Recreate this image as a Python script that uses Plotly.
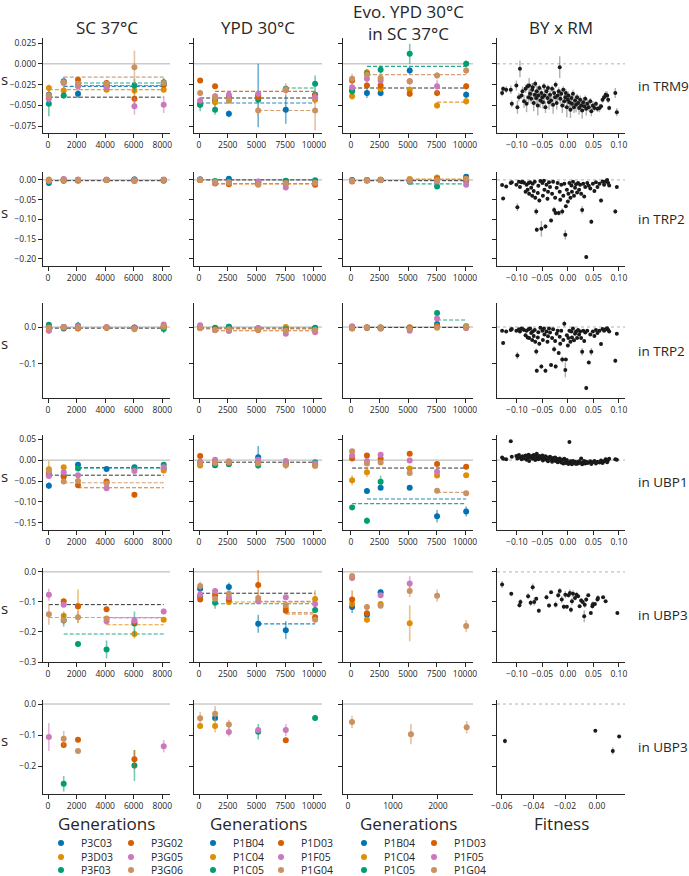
import plotly.graph_objects as go

# ---------------- data ----------------
GEN_SC = [60, 1100, 2100, 4100, 6050, 8100]
GEN_YPD = [100, 1400, 2600, 5150, 7550, 10100]
GEN_EVO = [100, 1400, 2600, 5150, 7550, 10100]
GEN_EVO_UBP3B = [90, 1400, 2640]

STRAINS_SC = ["P3C03", "P3D03", "P3F03", "P3G02", "P3G05", "P3G06"]
STRAINS_P1 = ["P1B04", "P1C04", "P1C05", "P1D03", "P1F05", "P1G04"]
COLORS = ["#0173b2", "#de8f05", "#029e73", "#d55e00", "#cc78bc", "#ca9161"]

N = None

# ---- TRM9 ----
trm9_sc_s = [
    [-0.037, -0.021, -0.036, -0.027, N, -0.025],
    [-0.029, -0.032, -0.026, -0.031, -0.032, -0.031],
    [-0.048, -0.038, -0.025, -0.024, -0.026, -0.022],
    [-0.040, -0.022, -0.019, -0.023, -0.042, -0.025],
    [-0.042, -0.023, -0.027, -0.028, -0.051, -0.049],
    [-0.038, -0.022, -0.024, -0.024, -0.004, -0.023],
]
trm9_sc_e = [
    [0.004, 0.004, 0.005, 0.003, 0, 0.004],
    [0.004, 0.004, 0.003, 0.003, 0.004, 0.003],
    [0.015, 0.004, 0.004, 0.003, 0.008, 0.005],
    [0.004, 0.004, 0.003, 0.003, 0.007, 0.004],
    [0.005, 0.008, 0.004, 0.004, 0.010, 0.010],
    [0.005, 0.004, 0.003, 0.003, 0.020, 0.003],
]
trm9_sc_mean = -0.040
trm9_sc_fix = [(5, 1, -0.016), (2, 2, -0.023), (0, 1, -0.027), (3, 2, -0.026), (1, 0, -0.031)]

trm9_ypd_s = [
    [-0.048, -0.044, -0.060, -0.038, -0.055, -0.037],
    [-0.049, -0.046, -0.044, -0.041, -0.031, -0.043],
    [-0.049, -0.055, -0.040, -0.043, -0.030, -0.024],
    [-0.020, -0.027, -0.041, -0.040, -0.031, -0.038],
    [-0.044, -0.039, -0.037, -0.036, -0.031, -0.040],
    [-0.035, -0.040, -0.043, -0.056, -0.031, -0.056],
]
trm9_ypd_e = [
    [0.004, 0.004, 0.004, 0.038, 0.017, 0.004],
    [0.004, 0.004, 0.004, 0.004, 0.004, 0.004],
    [0.008, 0.006, 0.004, 0.004, 0.004, 0.010],
    [0.003, 0.003, 0.004, 0.003, 0.004, 0.004],
    [0.004, 0.004, 0.004, 0.004, 0.004, 0.004],
    [0.004, 0.004, 0.004, 0.006, 0.008, 0.024],
]
trm9_ypd_mean = -0.041
trm9_ypd_fix = [(3, 1, -0.033), (2, 4, -0.029), (0, 0, -0.047), (5, 3, -0.056)]

trm9_evo_s = [
    [-0.032, -0.035, -0.035, -0.008, N, -0.037],
    [-0.039, -0.010, -0.030, -0.031, -0.050, -0.045],
    [-0.033, -0.012, -0.007, 0.012, N, 0.000],
    [-0.020, -0.026, -0.026, -0.036, -0.035, -0.027],
    [-0.028, -0.018, -0.020, -0.021, -0.027, N],
    [-0.018, -0.013, -0.017, -0.021, -0.014, -0.008],
]
trm9_evo_e = [
    [0.004, 0.006, 0.004, 0.004, 0, 0.004],
    [0.004, 0.004, 0.004, 0.004, 0.004, 0.004],
    [0.004, 0.004, 0.005, 0.012, 0, 0.004],
    [0.004, 0.004, 0.004, 0.004, 0.004, 0.004],
    [0.004, 0.004, 0.004, 0.004, 0.008, 0],
    [0.006, 0.004, 0.004, 0.004, 0.004, 0.004],
]
trm9_evo_mean = -0.029
trm9_evo_fix = [(2, 1, -0.003), (5, 1, -0.013), (1, 4, -0.046)]

# ---- TRP2 (first) ----
trp2a_sc_s = [
    [-0.008, -0.002, 0.000, 0.000, 0.001, 0.000],
    [0.001, 0.000, -0.001, 0.000, -0.002, 0.000],
    [-0.005, 0.001, 0.000, 0.000, 0.001, -0.002],
    [-0.003, -0.001, -0.002, 0.000, -0.002, 0.000],
    [-0.002, 0.002, 0.001, 0.001, 0.000, 0.001],
    [-0.002, -0.001, 0.000, -0.001, -0.003, 0.000],
]
trp2a_sc_e = [[0.003] * 6 for _ in range(6)]
trp2a_sc_mean = -0.002
trp2a_sc_fix = []

trp2a_ypd_s = [
    [0.001, -0.004, 0.003, -0.005, -0.003, -0.006],
    [0.000, -0.006, -0.008, -0.010, -0.004, -0.009],
    [0.001, -0.003, -0.004, -0.006, -0.002, -0.001],
    [0.000, -0.009, -0.011, -0.011, -0.010, -0.012],
    [0.001, -0.008, -0.006, -0.004, -0.019, -0.007],
    [0.000, -0.005, -0.007, -0.012, -0.008, -0.008],
]
trp2a_ypd_e = [[0.003] * 6 for _ in range(6)]
trp2a_ypd_mean = 0.0
trp2a_ypd_fix = [(3, 1, -0.010), (4, 1, -0.009)]

trp2a_evo_s = [
    [-0.002, -0.001, 0.000, 0.000, 0.004, 0.008],
    [-0.001, 0.000, 0.001, 0.002, 0.006, 0.003],
    [0.000, -0.001, 0.000, -0.005, -0.017, -0.003],
    [-0.004, -0.001, 0.000, -0.001, 0.002, 0.000],
    [-0.002, -0.002, -0.001, -0.003, -0.004, -0.012],
    [-0.003, -0.001, 0.000, 0.000, 0.000, 0.002],
]
trp2a_evo_e = [[0.003] * 6 for _ in range(6)]
trp2a_evo_mean = -0.002
trp2a_evo_fix = [(2, 3, -0.010), (1, 3, 0.002), (5, 3, 0.001)]

# ---- TRP2 (second) ----
trp2b_sc_s = [
    [0.002, -0.004, -0.001, -0.001, -0.002, 0.001],
    [-0.010, 0.000, -0.003, -0.001, -0.002, 0.003],
    [0.006, 0.000, 0.004, -0.001, -0.001, -0.005],
    [-0.001, -0.001, -0.004, -0.002, -0.002, 0.000],
    [-0.009, 0.000, 0.002, 0.000, -0.003, 0.007],
    [-0.002, -0.001, -0.002, -0.002, -0.006, 0.001],
]
trp2b_sc_e = [
    [0.003, 0.003, 0.003, 0.003, 0.003, 0.003],
    [0.009, 0.003, 0.003, 0.003, 0.003, 0.003],
    [0.003, 0.003, 0.010, 0.003, 0.003, 0.012],
    [0.003, 0.003, 0.003, 0.003, 0.003, 0.003],
    [0.004, 0.003, 0.003, 0.003, 0.003, 0.005],
    [0.003, 0.003, 0.003, 0.003, 0.003, 0.003],
]
trp2b_sc_mean = -0.003
trp2b_sc_fix = []

trp2b_ypd_s = [
    [-0.002, -0.003, 0.001, -0.005, -0.002, -0.003],
    [-0.001, -0.005, -0.006, -0.004, 0.000, -0.006],
    [0.000, -0.002, 0.001, -0.003, -0.006, -0.002],
    [-0.002, -0.006, -0.010, -0.008, -0.008, -0.009],
    [0.005, -0.009, -0.010, -0.003, -0.018, -0.014],
    [-0.003, -0.008, -0.006, -0.007, -0.010, -0.008],
]
trp2b_ypd_e = [[0.003] * 6 for _ in range(6)]
trp2b_ypd_mean = -0.003
trp2b_ypd_fix = [(3, 1, -0.010), (5, 0, -0.005)]

trp2b_evo_s = [
    [-0.003, -0.002, -0.004, -0.002, 0.008, -0.001],
    [-0.004, -0.002, -0.001, -0.001, 0.002, 0.003],
    [0.000, -0.001, -0.001, -0.003, 0.038, 0.000],
    [-0.002, -0.001, -0.002, -0.001, 0.000, -0.002],
    [0.002, -0.001, -0.002, -0.010, 0.023, -0.002],
    [-0.003, -0.001, -0.003, -0.004, -0.002, 0.001],
]
trp2b_evo_e = [
    [0.003, 0.003, 0.003, 0.003, 0.004, 0.003],
    [0.003, 0.003, 0.003, 0.003, 0.003, 0.003],
    [0.003, 0.003, 0.003, 0.003, 0.008, 0.003],
    [0.003, 0.003, 0.003, 0.003, 0.003, 0.003],
    [0.003, 0.003, 0.003, 0.004, 0.004, 0.003],
    [0.003, 0.003, 0.003, 0.003, 0.003, 0.003],
]
trp2b_evo_mean = -0.001
trp2b_evo_fix = [(2, 4, 0.019)]

# ---- UBP1 ----
ubp1_sc_s = [
    [-0.061, N, -0.011, -0.021, -0.017, -0.020],
    [-0.022, -0.017, N, N, N, -0.025],
    [-0.036, -0.037, -0.020, N, -0.020, -0.011],
    [-0.032, -0.040, -0.060, -0.051, -0.083, N],
    [-0.038, -0.029, -0.036, -0.067, -0.026, -0.017],
    [-0.026, -0.051, -0.050, -0.056, N, N],
]
ubp1_sc_e = [
    [0.008, 0, 0.004, 0.003, 0.003, 0.003],
    [0.020, 0.003, 0, 0, 0, 0.003],
    [0.004, 0.004, 0.003, 0, 0.004, 0.003],
    [0.004, 0.005, 0.004, 0.004, 0.006, 0],
    [0.004, 0.003, 0.003, 0.007, 0.004, 0.003],
    [0.004, 0.003, 0.003, 0.003, 0, 0],
]
ubp1_sc_mean = -0.036
ubp1_sc_fix = [(2, 2, -0.019), (0, 2, -0.018), (5, 1, -0.054), (3, 2, -0.066)]

ubp1_ypd_s = [
    [N, -0.012, N, 0.007, N, N],
    [-0.013, -0.009, -0.006, -0.006, -0.010, -0.012],
    [-0.006, -0.010, -0.010, -0.013, -0.006, -0.005],
    [0.010, -0.005, -0.006, -0.004, -0.009, -0.010],
    [-0.004, 0.001, -0.003, 0.001, -0.002, -0.008],
    [-0.008, -0.007, -0.005, -0.008, -0.012, -0.014],
]
ubp1_ypd_e = [
    [0, 0.004, 0, 0.027, 0, 0],
    [0.004, 0.004, 0.003, 0.003, 0.004, 0.004],
    [0.003, 0.003, 0.004, 0.004, 0.003, 0.003],
    [0.003, 0.003, 0.003, 0.003, 0.004, 0.003],
    [0.003, 0.003, 0.003, 0.003, 0.003, 0.003],
    [0.004, 0.003, 0.003, 0.004, 0.010, 0.004],
]
ubp1_ypd_mean = -0.005
ubp1_ypd_fix = []

ubp1_evo_s = [
    [N, -0.074, -0.066, -0.066, -0.134, -0.123],
    [-0.048, -0.029, N, -0.020, -0.037, -0.036],
    [-0.113, -0.145, -0.052, N, N, N],
    [0.004, 0.011, 0.003, 0.015, -0.009, -0.016],
    [0.011, -0.002, 0.013, -0.001, -0.028, N],
    [0.021, -0.008, -0.006, -0.031, -0.073, -0.079],
]
ubp1_evo_e = [
    [0, 0.006, 0.006, 0.006, 0.015, 0.012],
    [0.012, 0.012, 0, 0.004, 0.004, 0.004],
    [0.006, 0.008, 0.015, 0, 0, 0],
    [0.004, 0.004, 0.004, 0.004, 0.004, 0.006],
    [0.004, 0.004, 0.004, 0.004, 0.004, 0],
    [0.004, 0.004, 0.004, 0.004, 0.004, 0.004],
]
ubp1_evo_mean = -0.019
ubp1_evo_fix = [(5, 4, -0.077), (0, 1, -0.093), (2, 0, -0.104)]

# ---- UBP3 (first) ----
ubp3a_sc_s = [
    [N, N, N, N, N, N],
    [N, -0.146, -0.114, N, -0.207, -0.159],
    [N, -0.162, -0.240, -0.258, -0.172, N],
    [N, -0.098, -0.114, -0.124, -0.167, N],
    [-0.076, -0.109, N, -0.164, -0.162, -0.132],
    [-0.141, -0.160, -0.151, -0.155, N, N],
]
ubp3a_sc_e = [
    [0, 0, 0, 0, 0, 0],
    [0, 0.015, 0.055, 0, 0.015, 0.008],
    [0, 0.020, 0.010, 0.030, 0.040, 0],
    [0, 0.006, 0.006, 0.005, 0.008, 0],
    [0.020, 0.008, 0, 0.012, 0.010, 0.010],
    [0.035, 0.008, 0.020, 0.008, 0, 0],
]
ubp3a_sc_mean = -0.109
ubp3a_sc_fix = [(5, 0, -0.152), (4, 3, -0.153), (1, 3, -0.176), (2, 1, -0.207)]

ubp3a_ypd_s = [
    [-0.056, N, -0.050, -0.173, -0.194, N],
    [N, N, -0.100, N, -0.120, -0.090],
    [-0.081, -0.103, N, N, N, -0.127],
    [-0.092, -0.078, -0.092, -0.044, -0.129, -0.151],
    [-0.075, -0.064, -0.084, -0.098, -0.084, -0.107],
    [-0.047, -0.089, -0.073, -0.087, -0.110, -0.159],
]
ubp3a_ypd_e = [
    [0.008, 0, 0.015, 0.030, 0.030, 0],
    [0, 0, 0.010, 0, 0.010, 0.030],
    [0.008, 0.020, 0, 0, 0, 0.010],
    [0.008, 0.008, 0.008, 0.050, 0.010, 0.010],
    [0.008, 0.010, 0.008, 0.008, 0.008, 0.008],
    [0.015, 0.008, 0.008, 0.010, 0.010, 0.010],
]
ubp3a_ypd_mean = -0.071
ubp3a_ypd_fix = [(1, 2, -0.100), (2, 1, -0.106), (4, 3, -0.098), (5, 4, -0.135), (3, 4, -0.140), (0, 3, -0.173)]

ubp3a_evo_s = [
    [-0.117, -0.143, -0.068, N, N, N],
    [-0.107, -0.159, -0.107, -0.171, N, N],
    [N, N, N, N, N, N],
    [-0.092, -0.138, N, N, N, N],
    [-0.020, N, -0.078, -0.039, N, N],
    [-0.014, -0.117, -0.113, -0.064, -0.079, -0.180],
]
ubp3a_evo_e = [
    [0.020, 0.008, 0.010, 0, 0, 0],
    [0.008, 0.010, 0.010, 0.060, 0, 0],
    [0, 0, 0, 0, 0, 0],
    [0.030, 0.008, 0, 0, 0, 0],
    [0.010, 0, 0.008, 0.025, 0, 0],
    [0.006, 0.010, 0.008, 0.020, 0.020, 0.020],
]
ubp3a_evo_mean = None
ubp3a_evo_fix = []

# ---- UBP3 (second) ----
ubp3b_sc_s = [
    [N, N, N, N, N, N],
    [N, N, N, N, N, N],
    [N, -0.257, N, N, -0.198, N],
    [N, -0.132, -0.115, N, -0.178, N],
    [-0.106, N, N, N, N, -0.136],
    [N, -0.112, -0.151, N, N, N],
]
ubp3b_sc_e = [
    [0, 0, 0, 0, 0, 0],
    [0, 0, 0, 0, 0, 0],
    [0, 0.025, 0, 0, 0.050, 0],
    [0, 0.008, 0.006, 0, 0.030, 0],
    [0.045, 0, 0, 0, 0, 0.020],
    [0, 0.025, 0.006, 0, 0, 0],
]
ubp3b_ypd_s = [
    [N, -0.045, N, N, N, N],
    [-0.071, -0.071, N, N, N, N],
    [N, N, N, -0.089, N, -0.045],
    [N, N, N, N, -0.117, N],
    [N, N, -0.090, -0.084, -0.084, N],
    [-0.046, -0.031, -0.066, N, N, N],
]
ubp3b_ypd_e = [
    [0, 0.008, 0, 0, 0, 0],
    [0.008, 0.020, 0, 0, 0, 0],
    [0, 0, 0, 0.025, 0, 0.008],
    [0, 0, 0, 0, 0.008, 0],
    [0, 0, 0.015, 0.008, 0.020, 0],
    [0.020, 0.025, 0.015, 0, 0, 0],
]
ubp3b_evo_s = [
    [N, N, N], [N, N, N], [N, N, N], [N, N, N], [N, N, N],
    [-0.058, -0.097, -0.075],
]
ubp3b_evo_e = [
    [0, 0, 0], [0, 0, 0], [0, 0, 0], [0, 0, 0], [0, 0, 0],
    [0.020, 0.033, 0.020],
]

# ---- BY x RM segregants ----
seg_fit = [
    -0.129, -0.127, -0.121, -0.112, -0.110, -0.101, -0.099, -0.096, -0.094, -0.091,
    -0.089, -0.086, -0.083, -0.081, -0.079, -0.077, -0.076, -0.074, -0.072, -0.070,
    -0.069, -0.067, -0.065, -0.064, -0.062, -0.061, -0.059, -0.058, -0.056, -0.054,
    -0.052, -0.050, -0.049, -0.047, -0.046, -0.044, -0.042, -0.040, -0.039, -0.037,
    -0.035, -0.033, -0.031, -0.029, -0.027, -0.025, -0.024, -0.022, -0.020, -0.018,
    -0.016, -0.015, -0.013, -0.011, -0.009, -0.007, -0.005, -0.004, -0.002, 0.000,
    0.001, 0.003, 0.005, 0.007, 0.008, 0.010, 0.012, 0.014, 0.016, 0.018,
    0.020, 0.022, 0.024, 0.026, 0.028, 0.030, 0.032, 0.034, 0.036, 0.038,
    0.041, 0.044, 0.046, 0.049, 0.052, 0.055, 0.058, 0.062, 0.065, 0.068,
    0.071, 0.074, 0.077, 0.079, 0.081, 0.093, 0.096,
]
trm9_seg_s = [
    -0.035, -0.030, -0.031, -0.031, -0.048, -0.026, -0.052, -0.040, -0.006, -0.038,
    -0.033, -0.045, -0.030, -0.048, -0.027, -0.040, -0.026, -0.036, -0.042, -0.031,
    -0.028, -0.047, -0.037, -0.024, -0.041, -0.033, -0.050, -0.038, -0.029, -0.044,
    -0.035, -0.040, -0.046, -0.027, -0.038, -0.052, -0.033, -0.041, -0.029, -0.046,
    -0.037, -0.044, -0.030, -0.049, -0.035, -0.040, -0.025, -0.047, -0.038, -0.033,
    -0.004, -0.042, -0.036, -0.050, -0.031, -0.045, -0.040, -0.035, -0.052, -0.043,
    -0.038, -0.046, -0.055, -0.041, -0.048, -0.036, -0.052, -0.044, -0.049, -0.040,
    -0.047, -0.053, -0.043, -0.050, -0.056, -0.046, -0.051, -0.042, -0.054, -0.048,
    -0.052, -0.045, -0.057, -0.050, -0.053, -0.048, -0.054, -0.053, -0.051, -0.043,
    -0.040, -0.037, -0.038, -0.043, -0.053, -0.035, -0.058,
]
trm9_seg_e = [
    0.004, 0.003, 0.004, 0.005, 0.004, 0.006, 0.008, 0.005, 0.010, 0.004,
    0.006, 0.008, 0.005, 0.010, 0.004, 0.007, 0.009, 0.005, 0.006, 0.008,
    0.005, 0.010, 0.006, 0.004, 0.008, 0.007, 0.012, 0.005, 0.004, 0.009,
    0.006, 0.005, 0.008, 0.004, 0.010, 0.007, 0.005, 0.006, 0.004, 0.009,
    0.005, 0.007, 0.004, 0.011, 0.006, 0.005, 0.004, 0.008, 0.006, 0.005,
    0.013, 0.006, 0.005, 0.009, 0.004, 0.008, 0.006, 0.005, 0.012, 0.006,
    0.005, 0.007, 0.010, 0.006, 0.008, 0.005, 0.007, 0.006, 0.009, 0.004,
    0.006, 0.008, 0.005, 0.007, 0.010, 0.006, 0.005, 0.004, 0.008, 0.006,
    0.005, 0.004, 0.006, 0.005, 0.004, 0.003, 0.004, 0.005, 0.003, 0.004,
    0.003, 0.004, 0.005, 0.004, 0.003, 0.006, 0.005,
]
trp2a_seg_s = [
    -0.013, -0.047, -0.017, -0.008, -0.006, -0.012, -0.069, -0.005, -0.018, -0.006,
    -0.005, -0.007, -0.030, -0.012, -0.025, -0.008, -0.035, -0.006, -0.020, -0.040,
    -0.010, -0.028, -0.005, -0.045, -0.080, -0.126, -0.033, -0.015, -0.052, -0.003,
    -0.124, -0.008, -0.040, -0.002, -0.025, -0.118, -0.012, -0.048, -0.030, -0.006,
    -0.018, -0.103, -0.035, -0.005, -0.076, -0.045, -0.084, -0.020, -0.008, -0.084,
    -0.030, -0.050, -0.012, -0.080, -0.040, -0.010, -0.139, -0.067, -0.025, -0.055,
    -0.035, -0.008, -0.045, -0.014, -0.030, -0.005, -0.040, -0.020, -0.011, -0.032,
    -0.008, -0.025, -0.012, -0.035, -0.076, -0.010, -0.042, -0.018, -0.195, -0.008,
    -0.015, -0.022, -0.106, -0.010, -0.028, -0.006, -0.018, -0.010, -0.052, -0.004,
    -0.012, -0.004, 0.000, -0.008, -0.014, -0.080, -0.018,
]
trp2a_seg_e = [
    0.003, 0.004, 0.003, 0.002, 0.003, 0.003, 0.010, 0.002, 0.003, 0.002,
    0.002, 0.003, 0.004, 0.003, 0.004, 0.002, 0.005, 0.002, 0.003, 0.004,
    0.003, 0.004, 0.002, 0.005, 0.008, 0.006, 0.004, 0.003, 0.005, 0.002,
    0.020, 0.003, 0.004, 0.002, 0.003, 0.006, 0.003, 0.005, 0.004, 0.002,
    0.003, 0.005, 0.004, 0.002, 0.008, 0.004, 0.006, 0.003, 0.002, 0.006,
    0.004, 0.005, 0.003, 0.008, 0.004, 0.003, 0.012, 0.004, 0.003, 0.005,
    0.004, 0.002, 0.004, 0.003, 0.004, 0.002, 0.004, 0.003, 0.003, 0.004,
    0.002, 0.003, 0.003, 0.004, 0.010, 0.002, 0.004, 0.003, 0.005, 0.002,
    0.003, 0.003, 0.006, 0.002, 0.004, 0.002, 0.003, 0.002, 0.005, 0.002,
    0.003, 0.002, 0.002, 0.002, 0.003, 0.006, 0.003,
]
trp2b_seg_s = [
    -0.010, -0.043, -0.012, -0.008, -0.005, -0.010, -0.077, -0.006, -0.012, -0.004,
    -0.005, -0.008, -0.022, -0.010, -0.028, -0.006, -0.030, -0.004, -0.016, -0.035,
    -0.012, -0.024, -0.008, -0.040, -0.066, -0.118, -0.028, -0.014, -0.045, -0.002,
    -0.107, -0.010, -0.035, -0.004, -0.020, -0.118, -0.012, -0.040, -0.025, -0.004,
    -0.015, -0.103, -0.030, -0.006, -0.060, -0.038, -0.107, -0.018, -0.010, -0.070,
    -0.026, -0.045, -0.010, -0.088, -0.035, 0.009, -0.116, -0.088, -0.022, -0.050,
    -0.030, -0.010, -0.040, -0.012, -0.028, -0.004, -0.036, -0.018, -0.012, -0.030,
    -0.008, -0.020, -0.012, -0.030, -0.067, -0.010, -0.038, -0.015, -0.165, -0.010,
    -0.096, -0.020, -0.067, -0.012, -0.024, -0.008, -0.016, -0.010, -0.046, -0.005,
    -0.010, -0.006, -0.003, -0.008, -0.012, -0.091, -0.018,
]
trp2b_seg_e = [
    0.003, 0.004, 0.003, 0.002, 0.003, 0.003, 0.010, 0.002, 0.003, 0.002,
    0.002, 0.003, 0.004, 0.003, 0.004, 0.002, 0.005, 0.002, 0.003, 0.004,
    0.003, 0.004, 0.002, 0.005, 0.008, 0.006, 0.004, 0.003, 0.005, 0.002,
    0.006, 0.003, 0.004, 0.002, 0.003, 0.006, 0.003, 0.005, 0.004, 0.002,
    0.003, 0.005, 0.004, 0.002, 0.008, 0.004, 0.006, 0.003, 0.002, 0.006,
    0.004, 0.005, 0.003, 0.008, 0.004, 0.008, 0.020, 0.004, 0.003, 0.005,
    0.004, 0.002, 0.004, 0.003, 0.004, 0.002, 0.004, 0.003, 0.003, 0.004,
    0.002, 0.003, 0.003, 0.004, 0.010, 0.002, 0.004, 0.003, 0.006, 0.002,
    0.005, 0.003, 0.010, 0.002, 0.004, 0.002, 0.003, 0.002, 0.005, 0.002,
    0.003, 0.002, 0.002, 0.002, 0.003, 0.006, 0.003,
]
ubp1_seg_s = [
    0.006, 0.003, 0.002, 0.045, 0.008, 0.010, 0.004, 0.012, 0.007, 0.002,
    0.009, 0.004, 0.011, 0.001, 0.006, 0.013, -0.002, 0.007, 0.010, 0.003,
    0.008, 0.012, 0.004, 0.000, 0.009, 0.015, 0.005, 0.002, 0.010, 0.006,
    0.003, 0.011, -0.001, 0.007, 0.004, 0.009, 0.001, 0.006, -0.003, 0.005,
    0.008, 0.002, -0.004, 0.005, 0.000, 0.006, -0.002, 0.003, -0.005, 0.001,
    0.004, -0.003, -0.006, 0.001, -0.008, 0.003, -0.004, -0.007, 0.000, -0.005,
    -0.009, 0.043, -0.003, -0.006, -0.010, -0.002, -0.007, -0.004, -0.009, -0.005,
    -0.008, -0.003, -0.006, 0.004, -0.010, -0.005, -0.002, -0.008, -0.004, -0.007,
    -0.006, -0.003, -0.009, -0.005, -0.002, -0.008, -0.004, -0.006, -0.001, -0.007,
    -0.003, 0.002, -0.005, 0.000, 0.003, 0.002, 0.001,
]
ubp1_seg_e = [
    0.003, 0.003, 0.002, 0.003, 0.003, 0.004, 0.003, 0.003, 0.002, 0.003,
    0.003, 0.002, 0.003, 0.003, 0.002, 0.004, 0.003, 0.002, 0.003, 0.003,
    0.002, 0.003, 0.003, 0.002, 0.004, 0.003, 0.002, 0.003, 0.003, 0.002,
    0.003, 0.003, 0.002, 0.004, 0.003, 0.002, 0.003, 0.003, 0.002, 0.003,
    0.003, 0.002, 0.003, 0.003, 0.002, 0.003, 0.004, 0.002, 0.003, 0.003,
    0.002, 0.003, 0.003, 0.002, 0.003, 0.003, 0.002, 0.003, 0.003, 0.002,
    0.003, 0.003, 0.002, 0.003, 0.003, 0.002, 0.003, 0.003, 0.002, 0.003,
    0.003, 0.002, 0.003, 0.003, 0.002, 0.006, 0.003, 0.002, 0.003, 0.003,
    0.002, 0.003, 0.003, 0.002, 0.003, 0.003, 0.002, 0.003, 0.003, 0.002,
    0.003, 0.004, 0.003, 0.002, 0.003, 0.002, 0.003,
]
ubp3a_seg_fit = [
    -0.129, -0.111, -0.095, -0.093, -0.078, -0.073, -0.069, -0.066, -0.062, -0.057,
    -0.042, -0.037, -0.033, -0.024, -0.019, -0.016, -0.012, -0.008, -0.005, -0.002,
    0.001, 0.004, 0.006, 0.008, 0.010, 0.014, 0.017, 0.020, 0.023, 0.026,
    0.029, 0.032, 0.033, 0.036, 0.040, 0.045, 0.048, 0.049, 0.053, 0.058,
    0.059, 0.069, 0.074, 0.097,
]
ubp3a_seg_s = [
    -0.042, -0.073, -0.111, -0.100, -0.081, -0.103, -0.051, -0.100, -0.089, -0.129,
    -0.084, -0.112, -0.068, -0.109, -0.078, -0.064, -0.092, -0.116, -0.076, -0.116,
    -0.078, -0.070, -0.126, -0.098, -0.073, -0.087, -0.076, -0.081, -0.114, -0.095,
    -0.100, -0.148, -0.109, -0.092, -0.078, -0.137, -0.114, -0.108, -0.107, -0.092,
    -0.087, -0.084, -0.098, -0.137,
]
ubp3a_seg_e = [
    0.012, 0.006, 0.008, 0.010, 0.010, 0.010, 0.012, 0.012, 0.006, 0.008,
    0.008, 0.007, 0.005, 0.010, 0.010, 0.010, 0.012, 0.008, 0.012, 0.006,
    0.008, 0.012, 0.010, 0.012, 0.012, 0.008, 0.010, 0.006, 0.006, 0.008,
    0.008, 0.020, 0.010, 0.008, 0.005, 0.006, 0.008, 0.010, 0.006, 0.006,
    0.010, 0.005, 0.004, 0.006,
]
ubp3b_seg_fit = [-0.058, -0.001, 0.010, 0.014]
ubp3b_seg_s = [-0.119, -0.086, -0.151, -0.105]
ubp3b_seg_e = [0.008, 0.004, 0.012, 0.004]

ROW_LABELS = ["in TRM9", "in TRP2", "in TRP2", "in UBP1", "in UBP3", "in UBP3"]
COL_TITLES = ["SC 37°C", "YPD 30°C", "Evo. YPD 30°C<br>in SC 37°C", "BY x RM"]

# ---------------- layout helpers ----------------
W, H = 689, 876
FONT = "Open Sans"
INK = "#262626"

COL_PX = [(43, 170), (194, 322), (343, 473), (497, 625)]
ROW_PX = [(38, 133), (172, 266), (303, 398), (435, 530), (568, 662), (700, 794)]

Y_RANGES = [[-0.083, 0.031], [-0.218, 0.02], [-0.192, 0.065],
            [-0.167, 0.06], [-0.3, 0.013], [-0.29, 0.013]]
Y_TICKS = [[-0.075, -0.05, -0.025, 0, 0.025], [-0.2, -0.15, -0.1, -0.05, 0],
           [-0.1, 0], [-0.15, -0.1, -0.05, 0, 0.05], [-0.3, -0.2, -0.1, 0],
           [-0.2, -0.1, 0]]
Y_FMT = [".3f", ".2f", ".1f", ".2f", ".1f", ".1f"]


def fx(p):
    return p / W


def fy(p):
    return 1 - p / H


def rgba(hexc, a):
    h = hexc.lstrip("#")
    return "rgba(%d,%d,%d,%s)" % (int(h[0:2], 16), int(h[2:4], 16), int(h[4:6], 16), a)


def refs(n):
    return ("x" if n == 1 else "x%d" % n), ("y" if n == 1 else "y%d" % n)


panels = [
    [(GEN_SC, trm9_sc_s, trm9_sc_e, trm9_sc_mean, trm9_sc_fix),
     (GEN_YPD, trm9_ypd_s, trm9_ypd_e, trm9_ypd_mean, trm9_ypd_fix),
     (GEN_EVO, trm9_evo_s, trm9_evo_e, trm9_evo_mean, trm9_evo_fix),
     (seg_fit, trm9_seg_s, trm9_seg_e)],
    [(GEN_SC, trp2a_sc_s, trp2a_sc_e, trp2a_sc_mean, trp2a_sc_fix),
     (GEN_YPD, trp2a_ypd_s, trp2a_ypd_e, trp2a_ypd_mean, trp2a_ypd_fix),
     (GEN_EVO, trp2a_evo_s, trp2a_evo_e, trp2a_evo_mean, trp2a_evo_fix),
     (seg_fit, trp2a_seg_s, trp2a_seg_e)],
    [(GEN_SC, trp2b_sc_s, trp2b_sc_e, trp2b_sc_mean, trp2b_sc_fix),
     (GEN_YPD, trp2b_ypd_s, trp2b_ypd_e, trp2b_ypd_mean, trp2b_ypd_fix),
     (GEN_EVO, trp2b_evo_s, trp2b_evo_e, trp2b_evo_mean, trp2b_evo_fix),
     (seg_fit, trp2b_seg_s, trp2b_seg_e)],
    [(GEN_SC, ubp1_sc_s, ubp1_sc_e, ubp1_sc_mean, ubp1_sc_fix),
     (GEN_YPD, ubp1_ypd_s, ubp1_ypd_e, ubp1_ypd_mean, ubp1_ypd_fix),
     (GEN_EVO, ubp1_evo_s, ubp1_evo_e, ubp1_evo_mean, ubp1_evo_fix),
     (seg_fit, ubp1_seg_s, ubp1_seg_e)],
    [(GEN_SC, ubp3a_sc_s, ubp3a_sc_e, ubp3a_sc_mean, ubp3a_sc_fix),
     (GEN_YPD, ubp3a_ypd_s, ubp3a_ypd_e, ubp3a_ypd_mean, ubp3a_ypd_fix),
     (GEN_EVO, ubp3a_evo_s, ubp3a_evo_e, ubp3a_evo_mean, ubp3a_evo_fix),
     (ubp3a_seg_fit, ubp3a_seg_s, ubp3a_seg_e)],
    [(GEN_SC, ubp3b_sc_s, ubp3b_sc_e, None, []),
     (GEN_YPD, ubp3b_ypd_s, ubp3b_ypd_e, None, []),
     (GEN_EVO_UBP3B, ubp3b_evo_s, ubp3b_evo_e, None, []),
     (ubp3b_seg_fit, ubp3b_seg_s, ubp3b_seg_e)],
]

x_ranges = {0: [-350, 8540], 1: [-435, 10700], 2: [-700, 10700], 3: [-0.139, 0.112]}
x_ticks = {0: [0, 2000, 4000, 6000, 8000], 1: [0, 2500, 5000, 7500, 10000],
           2: [0, 2500, 5000, 7500, 10000], 3: [-0.1, -0.05, 0, 0.05, 0.1]}

fig = go.Figure()
layout = {}
shapes = []
annotations = []

for r in range(6):
    for c in range(4):
        n = r * 4 + c + 1
        xr, yr = refs(n)
        xa = "xaxis" if n == 1 else "xaxis%d" % n
        ya = "yaxis" if n == 1 else "yaxis%d" % n

        xrange_, xt, xfmt = x_ranges[c], x_ticks[c], (".2f" if c == 3 else "d")
        if r == 5 and c == 2:
            xrange_, xt = [-110, 2780], [0, 1000, 2000]
        if r == 5 and c == 3:
            xrange_, xt = [-0.063, 0.0177], [-0.06, -0.04, -0.02, 0]

        axis_common = dict(showline=True, linecolor=INK, linewidth=1.2, ticks="outside",
                           ticklen=4, tickwidth=1.1, tickcolor=INK, showgrid=False,
                           zeroline=False, tickangle=0, automargin=False,
                           tickfont=dict(size=8.5, color=INK, family=FONT))
        layout[xa] = dict(axis_common, domain=[fx(COL_PX[c][0]), fx(COL_PX[c][1])],
                          anchor=yr, range=xrange_, tickvals=xt, tickformat=xfmt)
        layout[ya] = dict(axis_common, domain=[fy(ROW_PX[r][1]), fy(ROW_PX[r][0])],
                          anchor=xr, range=Y_RANGES[r], tickvals=Y_TICKS[r],
                          tickformat=Y_FMT[r], showticklabels=(c == 0))

        # zero reference line
        shapes.append(dict(type="line", xref=xr + " domain", yref=yr, x0=0, x1=1, y0=0, y1=0,
                           line=dict(color="#b0b0b0" if c < 3 else "#a0a0a0",
                                     width=1 if c < 3 else 0.8,
                                     dash="solid" if c < 3 else "dot"),
                           layer="below"))

        if c < 3:
            gen, S, E, mean, fix = panels[r][c]
            if mean is not None:
                fig.add_trace(go.Scatter(x=[gen[0], gen[-1]], y=[mean, mean], mode="lines",
                                         line=dict(color="#333333", width=1, dash="4px,2px"),
                                         showlegend=False, hoverinfo="skip", xaxis=xr, yaxis=yr))
            for si, start, val in fix:
                fig.add_trace(go.Scatter(x=[gen[start], gen[-1]], y=[val, val], mode="lines",
                                         line=dict(color=rgba(COLORS[si], 0.85), width=1.1,
                                                   dash="4px,2px"),
                                         showlegend=False, hoverinfo="skip", xaxis=xr, yaxis=yr))
            for si in range(6):
                xs = [g for g, v in zip(gen, S[si]) if v is not None]
                ys = [v for v in S[si] if v is not None]
                es = [e for e, v in zip(E[si], S[si]) if v is not None]
                if not xs:
                    continue
                fig.add_trace(go.Scatter(
                    x=xs, y=ys, mode="markers",
                    marker=dict(color=COLORS[si], size=6, line=dict(width=0)),
                    error_y=dict(type="data", array=es, color=rgba(COLORS[si], 0.55),
                                 thickness=1.6, width=0),
                    showlegend=False, xaxis=xr, yaxis=yr))
        else:
            fit, s, e = panels[r][c]
            fig.add_trace(go.Scatter(
                x=fit, y=s, mode="markers",
                marker=dict(color="#1a1a1a", size=4, line=dict(width=0)),
                error_y=dict(type="data", array=e, color="rgba(60,60,60,0.4)",
                             thickness=1.4, width=0),
                showlegend=False, xaxis=xr, yaxis=yr))

# legends: one small legend per entry so the 2x3 grid under each column can be placed exactly
LEG_X = [[41, 111], [193, 261], [344, 414]]
LEG_Y = [843, 857, 870]
groups = [STRAINS_SC, STRAINS_P1, STRAINS_P1]
k = 0
for g in range(3):
    for si in range(6):
        k += 1
        lname = "legend" if k == 1 else "legend%d" % k
        layout[lname] = dict(orientation="v", x=fx(LEG_X[g][si // 3]), xanchor="left",
                             y=fy(LEG_Y[si % 3]), yanchor="middle",
                             bgcolor="rgba(0,0,0,0)", font=dict(size=10.5, color=INK, family=FONT),
                             itemclick=False, itemdoubleclick=False)
        fig.add_trace(go.Scatter(x=[None], y=[None], mode="markers", name=groups[g][si],
                                 marker=dict(color=COLORS[si], size=6),
                                 showlegend=True, legend=lname, xaxis="x", yaxis="y"))

# titles and labels
for c in range(4):
    cx = fx((COL_PX[c][0] + COL_PX[c][1]) / 2)
    annotations.append(dict(text=COL_TITLES[c], x=cx, y=fy(22 if c == 2 else 27),
                            xref="paper", yref="paper", showarrow=False,
                            xanchor="center", yanchor="middle",
                            font=dict(size=17, color=INK, family=FONT)))
    annotations.append(dict(text="Fitness" if c == 3 else "Generations", x=cx, y=fy(823),
                            xref="paper", yref="paper", showarrow=False,
                            xanchor="center", yanchor="middle",
                            font=dict(size=17, color=INK, family=FONT)))
for r in range(6):
    cy = (ROW_PX[r][0] + ROW_PX[r][1]) / 2
    annotations.append(dict(text=ROW_LABELS[r], x=fx(636), y=fy(cy), xref="paper", yref="paper",
                            xanchor="left", yanchor="middle", showarrow=False,
                            font=dict(size=13.5, color=INK, family=FONT)))
    annotations.append(dict(text="s", x=fx(4), y=fy(cy - 7), xref="paper", yref="paper",
                            xanchor="center", yanchor="middle", showarrow=False,
                            font=dict(size=15, color=INK, family=FONT)))

fig.update_layout(**layout)
fig.update_layout(width=W, height=H, margin=dict(l=0, r=0, t=0, b=0, autoexpand=False),
                  plot_bgcolor="white", paper_bgcolor="white",
                  font=dict(family=FONT, color=INK),
                  shapes=shapes, annotations=annotations, hovermode=False)

# the page body keeps its default 8px margin otherwise, which would push the figure off its 689x876 frame
fig.write_html("out.html", config={"displayModeBar": False},
               post_script="document.body.style.margin='0px';")
